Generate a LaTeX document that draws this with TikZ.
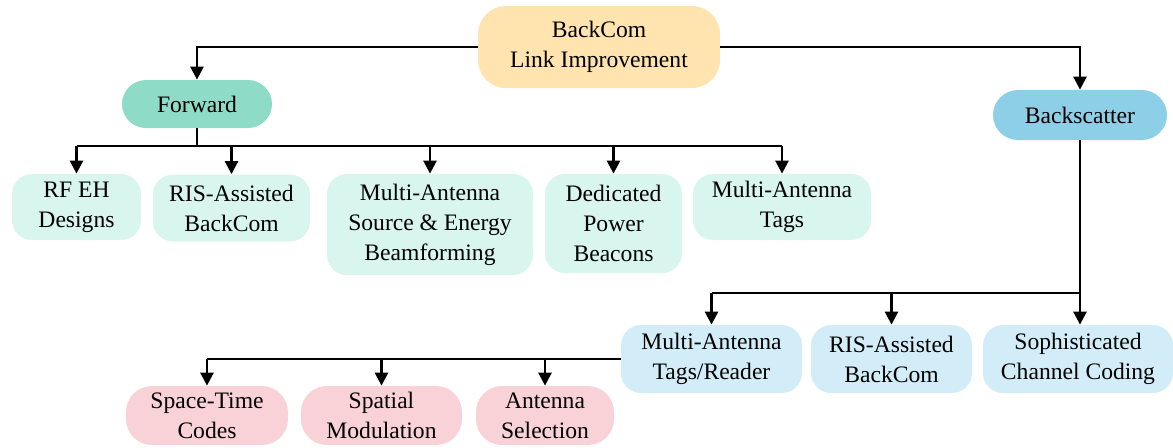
\documentclass[tikz,border=0pt]{standalone}
\usepackage{fontspec}
\setmainfont{Liberation Serif}
\usetikzlibrary{arrows.meta}
\definecolor{rootfill}{HTML}{FFE4B0}
\definecolor{fwdfill}{HTML}{8EDCC8}
\definecolor{bsfill}{HTML}{8ECFE8}
\definecolor{mintfill}{HTML}{D8F5EE}
\definecolor{bluefill}{HTML}{D2EDF8}
\definecolor{pinkfill}{HTML}{F9D2D7}
\begin{document}
\begin{tikzpicture}[x=0.5pt,y=-0.5pt,
  box/.style={inner sep=0pt, align=center, text=black,
    font=\fontsize{11.8}{15}\selectfont},
  conn/.style={line width=1.3pt, line join=miter},
  arr/.style={conn,-{Triangle[width=6.5pt,length=6.5pt]}}]
\useasboundingbox (0,0) rectangle (1173,447);

% top level
\node[box, fill=rootfill, rounded corners=14pt, minimum width=121pt, minimum height=41pt]
  (root) at (599,47) {BackCom\\Link Improvement};
\node[box, fill=fwdfill, rounded corners=12pt, minimum width=75pt, minimum height=24pt]
  (fwd) at (197,104) {Forward};
\node[box, fill=bsfill, rounded corners=12.5pt, minimum width=87pt, minimum height=25pt]
  (bs) at (1080,115) {Backscatter};

% forward branch
\tikzset{mint/.style={box, fill=mintfill, rounded corners=10pt}}
\node[mint, minimum width=64.5pt, minimum height=33pt] (a1) at (76.5,207) {RF EH\\Designs};
\node[mint, minimum width=78.5pt, minimum height=33.5pt] (a2) at (231.5,208) {RIS-Assisted\\BackCom};
\node[mint, minimum width=103pt, minimum height=50.5pt] (a3) at (430,224.5) {Multi-Antenna\\Source \& Energy\\Beamforming};
\node[mint, minimum width=68.5pt, minimum height=49.5pt] (a4) at (613.5,223.5) {Dedicated\\Power\\Beacons};
\node[mint, minimum width=89pt, minimum height=33pt] (a5) at (782,207) {Multi-Antenna\\Tags};

% backscatter branch
\tikzset{sky/.style={box, fill=bluefill, rounded corners=10pt, minimum height=34pt}}
\node[sky, minimum width=90.5pt] (b1) at (711.5,359) {Multi-Antenna\\Tags/Reader};
\node[sky, minimum width=80.5pt] (b2) at (891.5,359) {RIS-Assisted\\BackCom};
\node[sky, minimum width=95pt] (b3) at (1078,359) {Sophisticated\\Channel Coding};

% multi-antenna techniques
\tikzset{rose/.style={box, fill=pinkfill, rounded corners=13pt, minimum height=29.5pt}}
\node[rose, minimum width=81pt] (c1) at (207,415.5) {Space-Time\\Codes};
\node[rose, minimum width=80.5pt] (c2) at (381.5,415.5) {Spatial\\Modulation};
\node[rose, minimum width=69pt] (c3) at (545,415.5) {Antenna\\Selection};

% connectors
\draw[arr] (root.west) -| (fwd.north);
\draw[arr] (root.east) -| (bs.north);

\coordinate (fbus) at (197,146);
\draw[conn] (fwd.south) -- (fbus);
\draw[conn] (fbus -| a1.north) -- (fbus -| a5.north);
\foreach \n in {a1,a2,a3,a4,a5}
  \draw[arr] (fbus -| \n.north) -- (\n.north);

\coordinate (bbus) at (1080,293);
\draw[conn] (bs.south) -- (bbus);
\draw[conn] (bbus -| b1.north) -- (bbus);
\foreach \n in {b1,b2}
  \draw[arr] (bbus -| \n.north) -- (\n.north);
\draw[arr] (bbus) -- (bbus |- b3.north);

\draw[conn] (b1.west) -- (b1.west -| c1.north);
\foreach \n in {c1,c2,c3}
  \draw[arr] (b1.west -| \n.north) -- (\n.north);
\end{tikzpicture}
\end{document}
